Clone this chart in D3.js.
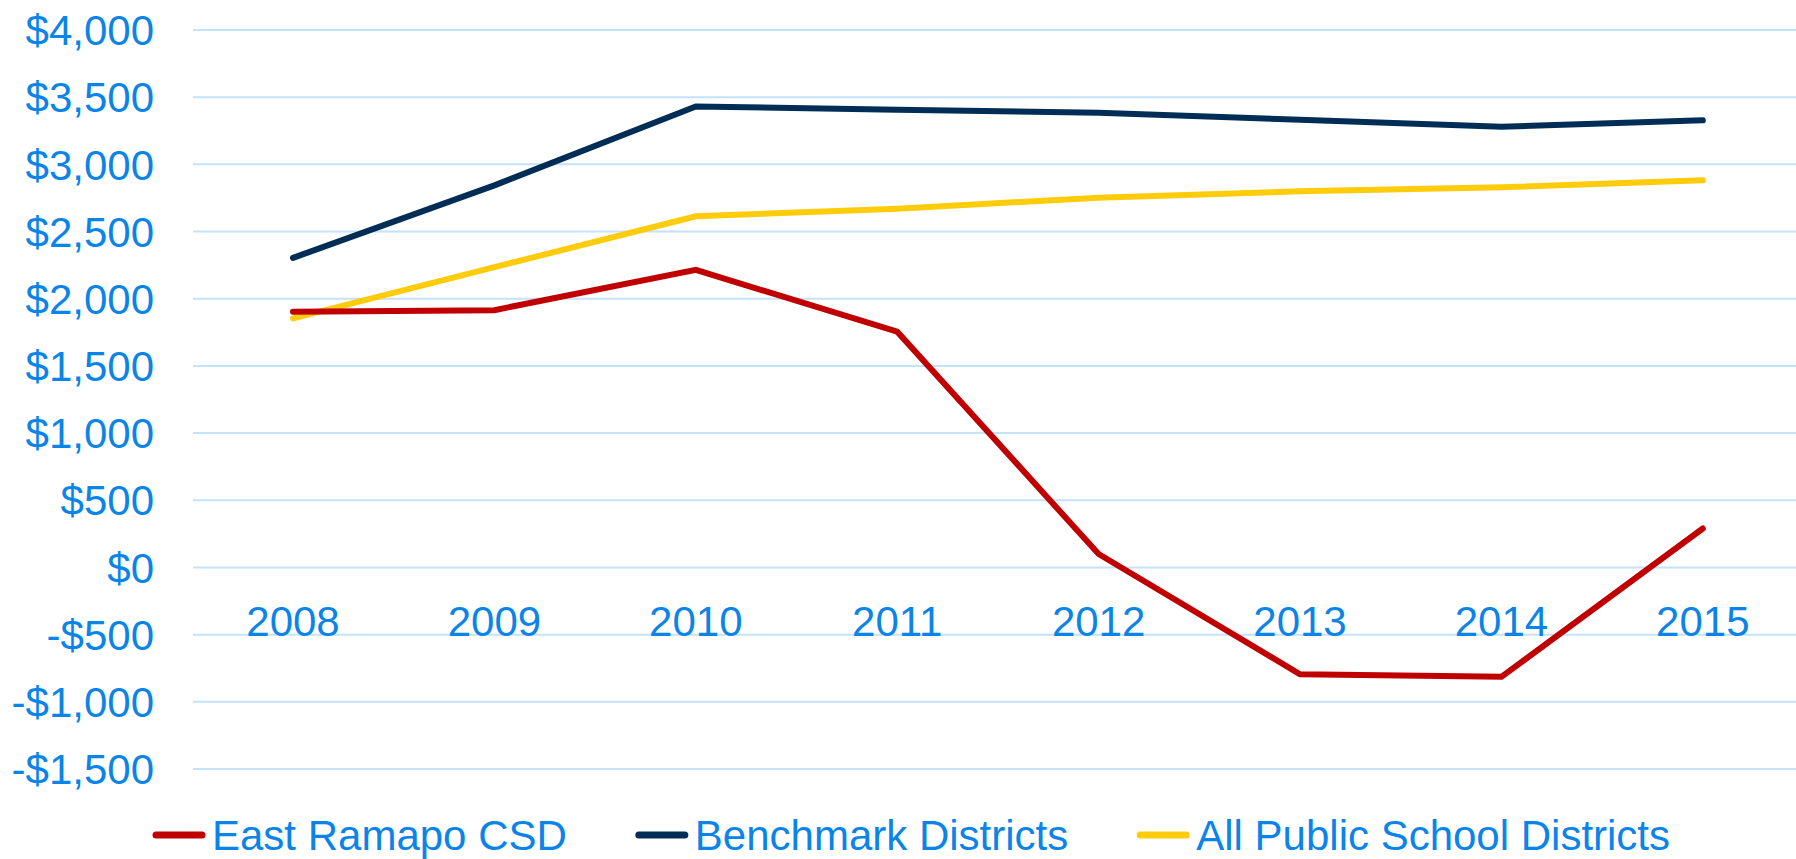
<!DOCTYPE html>
<html>
<head>
<meta charset="utf-8">
<script src="https://cdn.jsdelivr.net/npm/d3@7"></script>
<style>
    body { margin: 0; background: #fff; }
    svg { display: block; font-family: "Liberation Sans", Arial, sans-serif; }
</style>
</head>
<body>
<div id="chart"></div>
<script>
const years = ["2008", "2009", "2010", "2011", "2012", "2013", "2014", "2015"];
const eastRamapo = [1903, 1915, 2215, 1755, 100, -795, -814, 290];
const benchmark = [2304, 2844, 3431, 3406, 3384, 3332, 3280, 3328];
const allPublic = [1854, 2235, 2614, 2670, 2752, 2799, 2829, 2881];
const yTicks = [-1500, -1000, -500, 0, 500, 1000, 1500, 2000, 2500, 3000, 3500, 4000];

const seriesNames = ["East Ramapo CSD", "Benchmark Districts", "All Public School Districts"];
const seriesColors = ["#C00000", "#002D56", "#FFCC0B"];

document.addEventListener("DOMContentLoaded", function () {
    const width = 1796;
    const height = 859;
    const textColor = "#0A84E8";

    const svg = d3.select("#chart").append("svg")
        .attr("width", width)
        .attr("height", height);

    const x = d3.scaleBand()
        .domain(years)
        .range([192.3, 1803.5]);

    const y = d3.scaleLinear()
        .domain([-1500, 4000])
        .range([769, 30]);

    // gridlines
    svg.append("g")
        .selectAll("line")
        .data(yTicks)
        .enter().append("line")
        .attr("x1", 193)
        .attr("x2", 1810)
        .attr("y1", d => y(d))
        .attr("y2", d => y(d))
        .attr("stroke", "#C4E2F9")
        .attr("stroke-width", 2);

    // y axis labels
    const yAxis = svg.append("g")
        .attr("transform", "translate(154,0)")
        .call(d3.axisLeft(y)
            .tickValues(yTicks)
            .tickSize(0)
            .tickPadding(0)
            .tickFormat(d => (d < 0 ? "-$" : "$") + d3.format(",")(Math.abs(d))));
    yAxis.select(".domain").remove();
    yAxis.selectAll("text")
        .attr("fill", textColor)
        .attr("dy", "0.35em")
        .style("font-size", "42px")
        .style("font-family", "'Liberation Sans', Arial, sans-serif");

    // x axis labels, sitting under the $0 line
    const xAxis = svg.append("g")
        .attr("transform", `translate(0, ${y(0) + 69})`)
        .call(d3.axisBottom(x).tickSize(0).tickPadding(0));
    xAxis.select(".domain").remove();
    xAxis.selectAll("text")
        .attr("fill", textColor)
        .attr("dy", "0")
        .attr("y", 0)
        .style("font-size", "42px")
        .style("font-family", "'Liberation Sans', Arial, sans-serif");

    const allSeries = [eastRamapo, benchmark, allPublic];
    const line = d3.line()
        .x((d, i) => x(years[i]) + x.bandwidth() / 2)
        .y(d => y(d));

    // draw yellow first, then navy, red on top
    [2, 1, 0].forEach(k => {
        svg.append("path")
            .datum(allSeries[k])
            .attr("d", line)
            .attr("fill", "none")
            .attr("stroke", seriesColors[k])
            .attr("stroke-width", 6)
            .attr("stroke-linecap", "round")
            .attr("stroke-linejoin", "miter");
    });

    // legend
    const legend = svg.append("g").attr("transform", "translate(0, 835)");
    let lx = 152;
    seriesNames.forEach((name, i) => {
        legend.append("line")
            .attr("x1", lx + 4)
            .attr("x2", lx + 50)
            .attr("y1", 0)
            .attr("y2", 0)
            .attr("stroke", seriesColors[i])
            .attr("stroke-width", 7)
            .attr("stroke-linecap", "round");
        const t = legend.append("text")
            .attr("x", lx + 60)
            .attr("y", 0)
            .attr("dy", "0.35em")
            .attr("fill", textColor)
            .style("font-size", "42px")
            .text(name);
        lx = lx + 60 + t.node().getComputedTextLength() + 68;
    });
});
</script>
</body>
</html>
